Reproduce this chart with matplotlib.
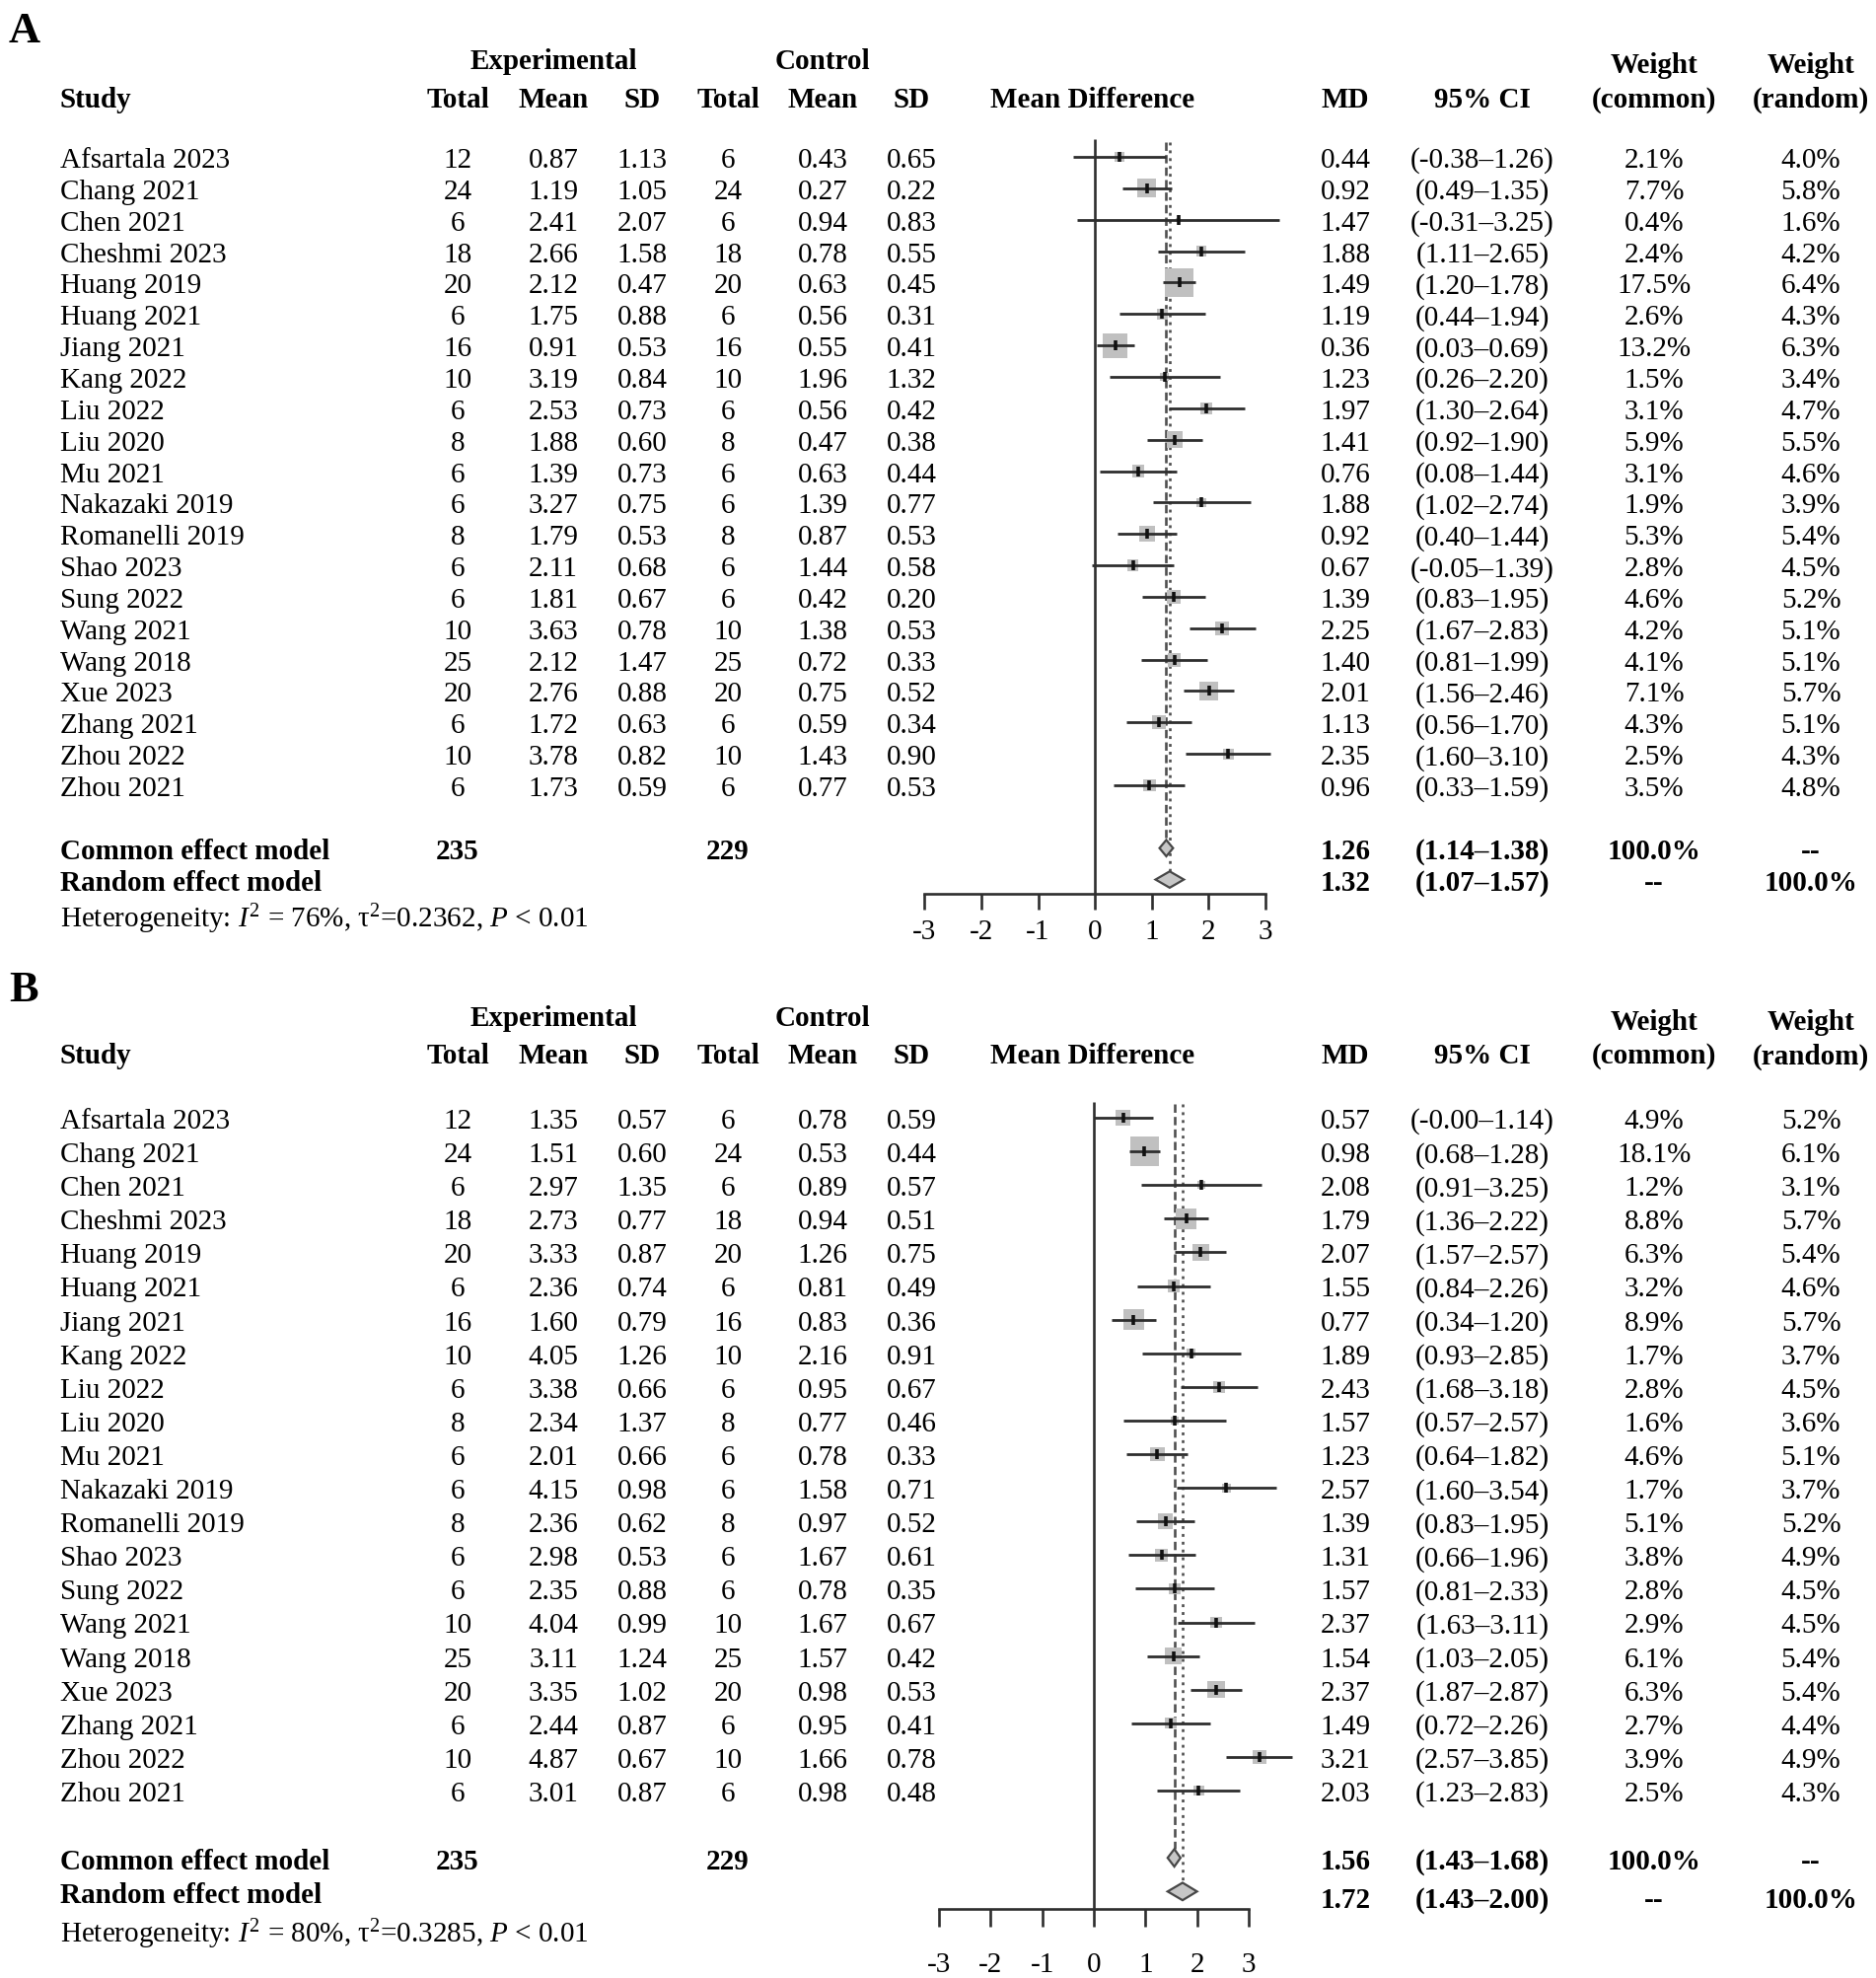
import matplotlib
matplotlib.use('Agg')
import matplotlib.pyplot as plt
import numpy as np

plt.rcParams['font.family'] = 'Liberation Serif'
plt.rcParams['mathtext.fontset'] = 'custom'
plt.rcParams['mathtext.rm'] = 'Liberation Serif'
plt.rcParams['mathtext.it'] = 'Liberation Serif:italic'
plt.rcParams['axes.unicode_minus'] = False

# ---------------- data ----------------
studies = ['Afsartala 2023', 'Chang 2021', 'Chen 2021', 'Cheshmi 2023', 'Huang 2019',
           'Huang 2021', 'Jiang 2021', 'Kang 2022', 'Liu 2022', 'Liu 2020', 'Mu 2021',
           'Nakazaki 2019', 'Romanelli 2019', 'Shao 2023', 'Sung 2022', 'Wang 2021',
           'Wang 2018', 'Xue 2023', 'Zhang 2021', 'Zhou 2022', 'Zhou 2021']
n_exp = [12, 24, 6, 18, 20, 6, 16, 10, 6, 8, 6, 6, 8, 6, 6, 10, 25, 20, 6, 10, 6]
n_ctl = [6, 24, 6, 18, 20, 6, 16, 10, 6, 8, 6, 6, 8, 6, 6, 10, 25, 20, 6, 10, 6]

# panel A
a_exp_mean = [0.87, 1.19, 2.41, 2.66, 2.12, 1.75, 0.91, 3.19, 2.53, 1.88, 1.39, 3.27, 1.79, 2.11, 1.81, 3.63, 2.12, 2.76, 1.72, 3.78, 1.73]
a_exp_sd = [1.13, 1.05, 2.07, 1.58, 0.47, 0.88, 0.53, 0.84, 0.73, 0.60, 0.73, 0.75, 0.53, 0.68, 0.67, 0.78, 1.47, 0.88, 0.63, 0.82, 0.59]
a_ctl_mean = [0.43, 0.27, 0.94, 0.78, 0.63, 0.56, 0.55, 1.96, 0.56, 0.47, 0.63, 1.39, 0.87, 1.44, 0.42, 1.38, 0.72, 0.75, 0.59, 1.43, 0.77]
a_ctl_sd = [0.65, 0.22, 0.83, 0.55, 0.45, 0.31, 0.41, 1.32, 0.42, 0.38, 0.44, 0.77, 0.53, 0.58, 0.20, 0.53, 0.33, 0.52, 0.34, 0.90, 0.53]
a_md = [0.44, 0.92, 1.47, 1.88, 1.49, 1.19, 0.36, 1.23, 1.97, 1.41, 0.76, 1.88, 0.92, 0.67, 1.39, 2.25, 1.40, 2.01, 1.13, 2.35, 0.96]
a_lo = [-0.38, 0.49, -0.31, 1.11, 1.20, 0.44, 0.03, 0.26, 1.30, 0.92, 0.08, 1.02, 0.40, -0.05, 0.83, 1.67, 0.81, 1.56, 0.56, 1.60, 0.33]
a_hi = [1.26, 1.35, 3.25, 2.65, 1.78, 1.94, 0.69, 2.20, 2.64, 1.90, 1.44, 2.74, 1.44, 1.39, 1.95, 2.83, 1.99, 2.46, 1.70, 3.10, 1.59]
a_w_common = [2.1, 7.7, 0.4, 2.4, 17.5, 2.6, 13.2, 1.5, 3.1, 5.9, 3.1, 1.9, 5.3, 2.8, 4.6, 4.2, 4.1, 7.1, 4.3, 2.5, 3.5]
a_w_random = [4.0, 5.8, 1.6, 4.2, 6.4, 4.3, 6.3, 3.4, 4.7, 5.5, 4.6, 3.9, 5.4, 4.5, 5.2, 5.1, 5.1, 5.7, 5.1, 4.3, 4.8]
a_common = [1.26, 1.14, 1.38]
a_random = [1.32, 1.07, 1.57]
a_het = ('76%', '0.2362')

# panel B
b_exp_mean = [1.35, 1.51, 2.97, 2.73, 3.33, 2.36, 1.60, 4.05, 3.38, 2.34, 2.01, 4.15, 2.36, 2.98, 2.35, 4.04, 3.11, 3.35, 2.44, 4.87, 3.01]
b_exp_sd = [0.57, 0.60, 1.35, 0.77, 0.87, 0.74, 0.79, 1.26, 0.66, 1.37, 0.66, 0.98, 0.62, 0.53, 0.88, 0.99, 1.24, 1.02, 0.87, 0.67, 0.87]
b_ctl_mean = [0.78, 0.53, 0.89, 0.94, 1.26, 0.81, 0.83, 2.16, 0.95, 0.77, 0.78, 1.58, 0.97, 1.67, 0.78, 1.67, 1.57, 0.98, 0.95, 1.66, 0.98]
b_ctl_sd = [0.59, 0.44, 0.57, 0.51, 0.75, 0.49, 0.36, 0.91, 0.67, 0.46, 0.33, 0.71, 0.52, 0.61, 0.35, 0.67, 0.42, 0.53, 0.41, 0.78, 0.48]
b_md = [0.57, 0.98, 2.08, 1.79, 2.07, 1.55, 0.77, 1.89, 2.43, 1.57, 1.23, 2.57, 1.39, 1.31, 1.57, 2.37, 1.54, 2.37, 1.49, 3.21, 2.03]
b_lo = [-0.0, 0.68, 0.91, 1.36, 1.57, 0.84, 0.34, 0.93, 1.68, 0.57, 0.64, 1.60, 0.83, 0.66, 0.81, 1.63, 1.03, 1.87, 0.72, 2.57, 1.23]
b_hi = [1.14, 1.28, 3.25, 2.22, 2.57, 2.26, 1.20, 2.85, 3.18, 2.57, 1.82, 3.54, 1.95, 1.96, 2.33, 3.11, 2.05, 2.87, 2.26, 3.85, 2.83]
b_w_common = [4.9, 18.1, 1.2, 8.8, 6.3, 3.2, 8.9, 1.7, 2.8, 1.6, 4.6, 1.7, 5.1, 3.8, 2.8, 2.9, 6.1, 6.3, 2.7, 3.9, 2.5]
b_w_random = [5.2, 6.1, 3.1, 5.7, 5.4, 4.6, 5.7, 3.7, 4.5, 3.6, 5.1, 3.7, 5.2, 4.9, 4.5, 4.5, 5.4, 5.4, 4.4, 4.9, 4.3]
b_common = [1.56, 1.43, 1.68]
b_random = [1.72, 1.43, 2.00]
b_het = ('80%', '0.3285')

total_exp = '235'
total_ctl = '229'
ticks = [-3, -2, -1, 0, 1, 2, 3]

# ---------------- figure ----------------
W, H = 1902, 2006
fig = plt.figure(figsize=(W / 100, H / 100), dpi=100)
bg = fig.add_axes([0, 0, 1, 1])
bg.set_xlim(0, W)
bg.set_ylim(H, 0)
bg.axis('off')

FS = 21
INK = '#2e2e2e'
DY = 3  # text nudge
# column centres (pixels)
cx = [464, 561, 651, 738, 834, 924, 1108, 1364, 1503, 1677, 1836]


def panel(letter, lay, exp_mean, exp_sd, ctl_mean, ctl_sd, md, lo, hi, wc, wr,
          common, random, het):
    row0, rowh = lay['row0'], lay['rowh']

    def ry(r):
        return row0 + r * rowh + DY

    # headers
    bg.text(9, lay['letter'], letter, fontsize=32, fontweight='bold', va='center')
    bg.text(cx[1], lay['h1'] + DY, 'Experimental', fontsize=FS, fontweight='bold', ha='center', va='center')
    bg.text(cx[4], lay['h1'] + DY, 'Control', fontsize=FS, fontweight='bold', ha='center', va='center')
    bg.text(cx[9], lay['h1'] + 4 + DY, 'Weight', fontsize=FS, fontweight='bold', ha='center', va='center')
    bg.text(cx[10], lay['h1'] + 4 + DY, 'Weight', fontsize=FS, fontweight='bold', ha='center', va='center')
    bg.text(61, lay['h2'] + DY, 'Study', fontsize=FS, fontweight='bold', va='center')
    heads = ['Total', 'Mean', 'SD', 'Total', 'Mean', 'SD', 'Mean Difference', 'MD', '95% CI',
             '(common)', '(random)']
    for x, t in zip(cx, heads):
        bg.text(x, lay['h2'] + DY, t, fontsize=FS, fontweight='bold', ha='center', va='center')

    # study rows
    for i, name in enumerate(studies):
        y = ry(i)
        vals = [str(n_exp[i]), f'{exp_mean[i]:.2f}', f'{exp_sd[i]:.2f}', str(n_ctl[i]),
                f'{ctl_mean[i]:.2f}', f'{ctl_sd[i]:.2f}']
        bg.text(61, y, name, fontsize=FS, va='center')
        for x, t in zip(cx[:6], vals):
            bg.text(x, y, t, fontsize=FS, ha='center', va='center')
        right = [f'{md[i]:.2f}', f'({lo[i]:.2f}\u2013{hi[i]:.2f})', f'{wc[i]:.1f}%', f'{wr[i]:.1f}%']
        for x, t in zip(cx[7:], right):
            bg.text(x, y, t, fontsize=FS, ha='center', va='center')

    # summary rows
    yc, yr = ry(22), ry(23)
    bg.text(61, yc, 'Common effect model', fontsize=FS, fontweight='bold', va='center')
    bg.text(cx[0], yc, total_exp, fontsize=FS, fontweight='bold', ha='center', va='center')
    bg.text(cx[3], yc, total_ctl, fontsize=FS, fontweight='bold', ha='center', va='center')
    bg.text(61, yr, 'Random effect model', fontsize=FS, fontweight='bold', va='center')
    for y, est, w1, w2 in [(yc, common, '100.0%', '--'), (yr + lay['rshift'], random, '--', '100.0%')]:
        right = [f'{est[0]:.2f}', f'({est[1]:.2f}\u2013{est[2]:.2f})', w1, w2]
        for x, t in zip(cx[7:], right):
            bg.text(x, y, t, fontsize=FS, fontweight='bold', ha='center', va='center')
    bg.text(61, ry(lay['het']),
            'Heterogeneity: $\\mathit{I}^2$ = ' + het[0] + ', \u03c4$^2$=' + het[1] + ', $\\mathit{P}$ < 0.01',
            fontsize=FS, va='center')

    # forest axes
    xmin, xmax = -3.5, 4.0
    zero, unit = lay['zero'], lay['unit']
    lpx, rpx = zero + xmin * unit, zero + xmax * unit
    tpx, bpx = row0 - rowh, row0 + lay['axis'] * rowh
    ax = fig.add_axes([lpx / W, 1 - bpx / H, (rpx - lpx) / W, (bpx - tpx) / H])
    ax.set_xlim(xmin, xmax)
    ax.set_ylim(lay['axis'], -1)
    ax.patch.set_alpha(0)
    for s in ['top', 'right', 'left']:
        ax.spines[s].set_visible(False)
    ax.spines['bottom'].set_bounds(-3, 3)
    ax.spines['bottom'].set_linewidth(1.9)
    ax.spines['bottom'].set_color(INK)
    ax.set_yticks([])
    ax.set_xticks(ticks)
    ax.set_xticklabels([str(t) for t in ticks])
    ax.tick_params(axis='x', length=lay['ticklen'], width=1.9, color=INK, labelsize=FS,
                   pad=lay['pad'])

    rows = np.arange(len(studies))
    side = 6.9 * np.sqrt(np.array(wc)) * 0.72
    ax.scatter(md, rows, marker='s', s=side ** 2, color='#c0c0c0', lw=0, zorder=2, clip_on=False)
    ax.hlines(rows, lo, hi, color=INK, lw=2.0, zorder=3, clip_on=False)
    ax.plot(md, rows, ls='none', marker='|', ms=6.5, mew=2.6, color='#111111', zorder=4, clip_on=False)

    ax.vlines(0, lay['ztop'], lay['axis'], color=INK, lw=1.9, zorder=1)
    dh = 0.26
    ax.vlines(common[0], lay['ltop'], 22 - dh, color='#505050', lw=1.9,
              linestyles=(0, (3.2, 1.6)), zorder=1)
    ax.vlines(random[0], lay['ltop'], 23 - dh, color='#505050', lw=1.9,
              linestyles=(0, (1.1, 1.9)), zorder=1)
    for r, est in [(22, common), (23, random)]:
        ax.fill([est[1], est[0], est[2], est[0]], [r, r - dh, r, r + dh],
                facecolor='#c6c6c6', edgecolor='#474747', lw=1.6, zorder=3)


lay_a = dict(letter=32, h1=59, h2=98, row0=160, rowh=31.85, zero=1110, unit=57.5,
             axis=23.45, ztop=-0.57, ltop=-0.47, ticklen=11.5, pad=6.5, het=24.15, rshift=0)
lay_b = dict(letter=1004, h1=1029, h2=1068, row0=1134, rowh=34.1, zero=1109, unit=52.3,
             axis=23.52, ztop=-0.47, ltop=-0.41, ticklen=13, pad=18, het=24.15, rshift=5)

panel('A', lay_a, a_exp_mean, a_exp_sd, a_ctl_mean, a_ctl_sd, a_md, a_lo, a_hi,
      a_w_common, a_w_random, a_common, a_random, a_het)
panel('B', lay_b, b_exp_mean, b_exp_sd, b_ctl_mean, b_ctl_sd, b_md, b_lo, b_hi,
      b_w_common, b_w_random, b_common, b_random, b_het)

fig.savefig('out.png', dpi=100)
